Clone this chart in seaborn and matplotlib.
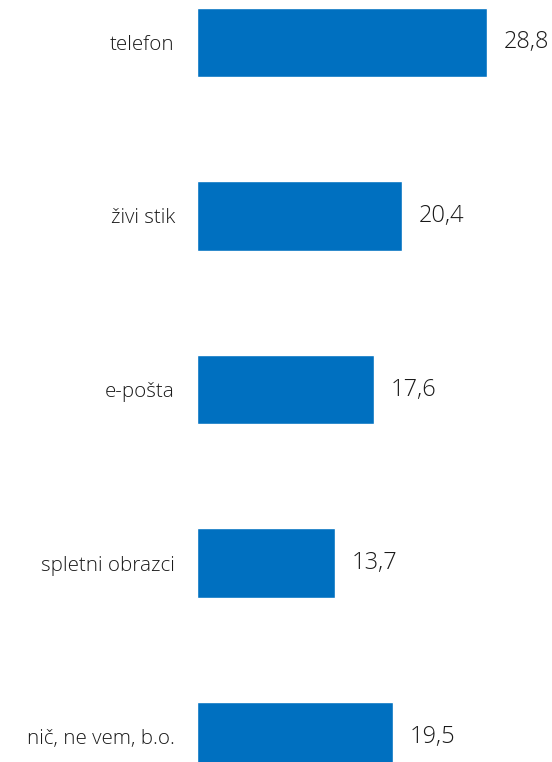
import matplotlib
matplotlib.use("Agg")
import matplotlib.pyplot as plt
import seaborn as sns
import pandas as pd

categories = ["telefon", "živi stik", "e-pošta", "spletni obrazci", "nič, ne vem, b.o."]
values = [28.8, 20.4, 17.6, 13.7, 19.5]

df = pd.DataFrame({"cat": categories, "val": values})

sns.set_style("white")
plt.rcParams["font.family"] = ["Open Sans", "DejaVu Sans"]

fig = plt.figure(figsize=(5.52, 7.62), dpi=100)
ax = fig.add_axes([197 / 552, 0, 1 - 197 / 552, 1])
sns.barplot(data=df, x="val", y="cat", orient="h", color="#0070C0",
            width=0.40, saturation=1, ax=ax)

ax.set_xlim(0, 35.3)
ax.set_ylim(4.146, -0.244)
for s in ax.spines.values():
    s.set_visible(False)
ax.set_xticks([])
ax.set_xlabel("")
ax.set_ylabel("")
ax.tick_params(axis="y", length=0, pad=16)
for lab in ax.get_yticklabels():
    lab.set_fontsize(14.8)
    lab.set_fontweight("light")
    lab.set_color("#1a1a1a")

ax.bar_label(ax.containers[0], labels=[f"{v:.1f}".replace(".", ",") for v in values],
             padding=12, fontsize=17, fontweight="light", color="#1a1a1a")

fig.savefig("out.png", dpi=100)
